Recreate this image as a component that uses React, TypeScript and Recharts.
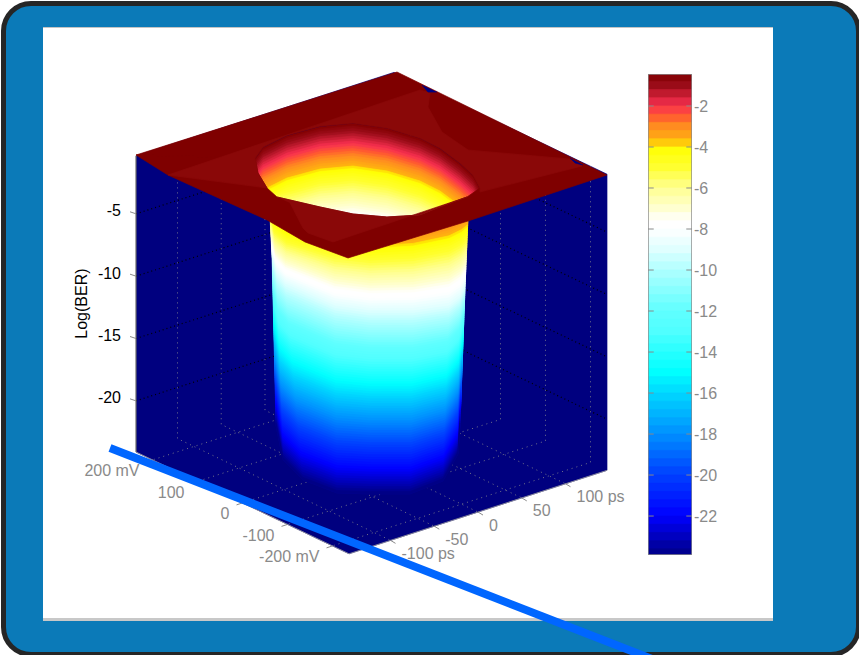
import React from 'react'
import { ScatterChart, Scatter, XAxis, YAxis } from 'recharts'

// surface readings: [ps, mV] on the sheet, levels in log10(BER)
const timeTicks = [-100, -50, 0, 50, 100]
const voltTicks = [200, 100, 0, -100, -200]
const berTicks = [-5, -10, -15, -20]
const colorbarTicks = [-2, -4, -6, -8, -10, -12, -14, -16, -18, -20, -22]
const timeLabels = ['-100 ps', '-50', '0', '50', '100 ps']
const voltLabels = ['200 mV', '100', '0', '-100', '-200 mV']

const TIME_MAX = 147.4
const VOLT_MAX = 236.7
const BER_TOP = -0.35
const BER_FLOOR = -24.1

const sheetOutline = [
  [-146.2, 238.9], [150, 235], [146.2, -238.9], [-14.1, -241.9], [-148.6, -236.8],
  [-155.1, -153.8], [-149.6, -58.8], [-153, 154.8], [-146.2, 238.9],
]
// far rim of the eye opening, left tip to right tip
const holeFarRim = [
  [-69.4, 123.9], [-48.3, 147.2], [-14.8, 159], [20.5, 154.3], [47.3, 133.1], [63.4, 88.7],
  [71.6, 31.4], [70.9, -14.3], [63.2, -73.9], [54.9, -118.7], [41.1, -161.1],
]
// deepest level of the far wall still seen through the opening, one per rim point
const holeFarDepth = [-2.8, -4.6, -6.7, -8.1, -8.9, -8.7, -7.8, -6.3, -4.6, -3, -1.6]
// near rim, right tip back to left tip
const holeNearRim = [
  [19.5, -174.4], [-13.2, -177.9], [-38.2, -182.2], [-63.6, -158.1], [-82.5, -119.3],
  [-95, -70.3], [-110, -3.9], [-104, 29.9], [-88.8, 79.6],
]
const facetUpperEdge = [
  [-153, 154.8], [140.1, 164.5], [142.6, 147.2], [121.2, 110.1], [95.1, 28.3], [87.2, -45],
  [143.9, -161.5], [142.1, -191.6], [35.4, -172.2],
]
const facetLowerEdge = [[-136, -179], [-140.3, -131.6], [-136.6, -113.3], [-109.7, -32.3]]
const backNotch = [[148.5, 176.5], [142.6, 151.7], [148.7, 143.6]]
const rightNotch = [[145.3, -158.7], [141.6, -177], [144.1, -189.7]]

// outer wall of the eye at three depths, left silhouette to right silhouette
const wallLevels = [-3, -9, -24]
const wallContours = [
  [[-69.9, 91.9], [-86.3, 53.2], [-91.8, 9.2], [-74.8, -64.4], [-55.2, -104.1], [-21.6, -134.3], [14.3, -144.4], [31.7, -139.4], [41.6, -133.7]],
  [[-46.4, 130.9], [-65.1, 85.7], [-74.6, 47.1], [-72, -58.8], [-55.2, -104.1], [-25.9, -142.6], [5.7, -161], [24.6, -148.7], [42.3, -125.5]],
  [[-15.2, 182.8], [-60.3, 79.4], [-75.2, 5.9], [-70.6, -60.6], [-49.5, -93], [-22.3, -128.8], [18.7, -122.3], [67.5, -61], [110.2, 17.7]],
]

const colormapLevels = [-0.4, -1, -2, -2.5, -3, -3.7, -4, -5, -6, -7, -7.6, -8, -9, -10, -12, -13, -15, -16, -18, -20, -21, -22, -23, -24]
const colormapColors = [
  '#7f0000', '#9a0c18', '#f83050', '#ff5a30', '#ff8c20', '#ffb010', '#ffff00', '#ffff30', '#ffff90', '#ffffd0', '#ffffff', '#ffffff',
  '#e0ffff', '#b0ffff', '#60ffff', '#50ffff', '#00ffff', '#00d8ff', '#0090ff', '#0040ff', '#0020ff', '#0000ff', '#0000c0', '#000080',
]
const colorbarLevels = [
  -0.44, -0.8, -1.2, -1.6, -2, -2.4, -2.8, -3.2, -3.6, -4, -4.4, -4.8, -5.2, -5.6, -6, -6.4, -6.8, -7.2, -7.6, -8,
  -8.4, -8.8, -9.2, -9.6, -10, -10.4, -10.8, -11.2, -11.6, -12, -12.4, -12.8, -13.2, -13.6, -14, -14.4, -14.8, -15.2,
  -15.6, -16, -16.4, -16.8, -17.2, -17.6, -18, -18.4, -18.8, -19.2, -19.6, -20, -20.4, -20.8, -21.2, -21.6, -22,
  -22.4, -22.8, -23.2, -23.6, -23.9,
]
// pen stroke across the slide, in picture units
const penStroke = [{ x: 110, y: 448 }, { x: 670, y: 666 }]

const FONT = '"Liberation Sans", Arial, sans-serif'
const NAVY = '#00007f'
const GRAY = '#8a8a8a'
const GRID = '#74748a'

// view projection of the 3D axes onto the flat chart plane
const project = (ps: number, mV: number, ber: number) => ({
  x: 371.5 + 0.875 * ps - 0.45 * mV,
  y: 165 - 0.283 * ps - 0.215 * mV + (BER_TOP - ber) * 12.47,
})
const onSheet = (list: number[][]) => list.map(([ps, mV]) => project(ps, mV, BER_TOP))

function hexToRgb(hex: string) {
  return [1, 3, 5].map((i) => parseInt(hex.slice(i, i + 2), 16))
}

function colorAt(level: number) {
  let i = 0
  while (i < colormapLevels.length - 2 && level < colormapLevels[i + 1]) i++
  const f = Math.min(1, Math.max(0, (colormapLevels[i] - level) / (colormapLevels[i] - colormapLevels[i + 1])))
  const a = hexToRgb(colormapColors[i])
  const b = hexToRgb(colormapColors[i + 1])
  return `rgb(${a.map((c, k) => Math.round(c + (b[k] - c) * f)).join(',')})`
}

// interp shading between the contours
function wallRing(level: number) {
  let i = 0
  if (level < wallLevels[1]) i = 1
  const f = Math.min(1, Math.max(0, (wallLevels[i] - level) / (wallLevels[i] - wallLevels[i + 1])))
  return wallContours[i].map(([ps, mV], k) => {
    const [ps2, mV2] = wallContours[i + 1][k]
    return project(ps + (ps2 - ps) * f, mV + (mV2 - mV) * f, level)
  })
}
function rimRing(level: number) {
  return holeFarRim.map(([ps, mV], k) => project(ps, mV, Math.max(level, holeFarDepth[k])))
}

const noDot = () => <g />

function poly(key: string, pts: { x: number; y: number }[], fill: string) {
  return (
    <Scatter key={key} data={pts} shape={noDot} isAnimationActive={false}
      line={{ fill, stroke: fill, strokeWidth: 0.7 }} />
  )
}

function dotted(key: string, pts: { x: number; y: number }[], stroke: string, dash = '1 4', strokeWidth = 1) {
  return (
    <Scatter key={key} data={pts} shape={noDot} isAnimationActive={false}
      line={{ fill: 'none', stroke, strokeWidth, strokeDasharray: dash }} />
  )
}

function textShape(anchor: string, fill: string, dx: number, dy: number) {
  return (p: any) => (
    <text x={p.cx + dx} y={p.cy + dy} textAnchor={anchor} dominantBaseline="central"
      fontFamily={FONT} fontSize={16} fill={fill}>{p.payload.label}</text>
  )
}

// each band runs on under the next one so no seams show between them
function shadedBands(prefix: string, ring: (z: number) => { x: number; y: number }[], from: number, to: number) {
  const out = []
  const step = 0.2
  for (let z = from; z - step >= to - 0.001; z -= step) {
    const upper = ring(z)
    const lower = ring(Math.max(z - step * 2.5, to))
    out.push(poly(`${prefix}${z}`, [...upper, ...lower.reverse()], colorAt(z - step / 2)))
  }
  return out
}

function EyeSurface() {
  const hole = onSheet([holeFarRim[0], ...[...holeNearRim].reverse(), ...[...holeFarRim].reverse()])
  const sheet = [...onSheet(sheetOutline), ...hole, ...onSheet([sheetOutline[0]])]
  const facetUpper = onSheet([...facetUpperEdge, ...[...holeFarRim].reverse(), holeNearRim[8], holeNearRim[7], facetUpperEdge[0]])
  const facetLower = onSheet([holeNearRim[6], holeNearRim[5], holeNearRim[4], holeNearRim[3], holeNearRim[2], holeNearRim[1], holeNearRim[0], ...facetLowerEdge])

  const walls = [
    project(-TIME_MAX, VOLT_MAX, BER_TOP), project(TIME_MAX, VOLT_MAX, BER_TOP), project(TIME_MAX, -VOLT_MAX, BER_TOP),
    project(TIME_MAX, -VOLT_MAX, BER_FLOOR), project(-TIME_MAX, -VOLT_MAX, BER_FLOOR), project(-TIME_MAX, VOLT_MAX, BER_FLOOR),
  ]

  return (
    <ScatterChart width={859} height={655} margin={{ top: 0, right: 0, bottom: 0, left: 0 }}>
      <XAxis type="number" dataKey="x" domain={[0, 859]} hide allowDataOverflow />
      <YAxis type="number" dataKey="y" domain={[0, 655]} reversed hide allowDataOverflow />

      {poly('walls', walls, NAVY)}

      {berTicks.map((z) =>
        dotted(`zgrid${z}`, [project(-TIME_MAX, VOLT_MAX, z), project(TIME_MAX, VOLT_MAX, z), project(TIME_MAX, -VOLT_MAX, z)], '#000000', '1 3', 1.2),
      )}
      {timeTicks.map((t) => dotted(`twall${t}`, [project(t, VOLT_MAX, BER_TOP), project(t, VOLT_MAX, BER_FLOOR), project(t, -VOLT_MAX, BER_FLOOR)], GRID))}
      {voltTicks.map((v) => dotted(`vwall${v}`, [project(TIME_MAX, v, BER_TOP), project(TIME_MAX, v, BER_FLOOR), project(-TIME_MAX, v, BER_FLOOR)], GRID))}

      {shadedBands('near', wallRing, -0.4, -24)}
      {shadedBands('far', rimRing, -0.4, -9)}

      {poly('sheet', sheet, '#7f0000')}
      {poly('facetUpper', facetUpper, '#8a0808')}
      {poly('facetLower', facetLower, '#8a0808')}
      {poly('backNotch', onSheet(backNotch), NAVY)}
      {poly('rightNotch', onSheet(rightNotch), NAVY)}

      {dotted('zaxis', [project(-TIME_MAX, VOLT_MAX, BER_TOP), project(-TIME_MAX, VOLT_MAX, BER_FLOOR)], '#6a6a6a', '0', 1.2)}
      {dotted('floorFrontLeft', [project(-TIME_MAX, VOLT_MAX, BER_FLOOR), project(-TIME_MAX, -VOLT_MAX, BER_FLOOR), project(TIME_MAX, -VOLT_MAX, BER_FLOOR)], '#9a9a9a', '0', 0.8)}

      {berTicks.map((z) => {
        const p = project(-TIME_MAX, VOLT_MAX, z)
        return dotted(`ztick${z}`, [p, { x: p.x - 6, y: p.y - 2 }], GRAY, '0')
      })}
      {voltTicks.map((v) => {
        const p = project(-TIME_MAX, v, BER_FLOOR)
        return dotted(`vtick${v}`, [p, { x: p.x - 6, y: p.y + 2 }], GRAY, '0')
      })}
      {timeTicks.map((t) => {
        const p = project(t, -VOLT_MAX, BER_FLOOR)
        return dotted(`ttick${t}`, [p, { x: p.x + 5, y: p.y + 3 }], GRAY, '0')
      })}

      <Scatter data={berTicks.map((z) => ({ ...project(-TIME_MAX, VOLT_MAX, z), label: String(z) }))}
        shape={textShape('end', '#000000', -15, -3)} isAnimationActive={false} />
      <Scatter data={voltTicks.map((v, i) => ({ ...project(-TIME_MAX, v, BER_FLOOR), label: voltLabels[i] }))}
        shape={textShape('end', GRAY, -13, 11)} isAnimationActive={false} />
      <Scatter data={timeTicks.map((t, i) => ({ ...project(t, -VOLT_MAX, BER_FLOOR), label: timeLabels[i] }))}
        shape={textShape('start', GRAY, 11, 13)} isAnimationActive={false} />
      <Scatter data={[{ ...project(-TIME_MAX, VOLT_MAX, -12.2), label: 'Log(BER)' }]} isAnimationActive={false}
        shape={(p: any) => (
          <text transform={`translate(${p.cx - 55} ${p.cy}) rotate(-90)`} textAnchor="middle" dominantBaseline="central"
            fontFamily={FONT} fontSize={16} fill="#000000">{p.payload.label}</text>
        )} />

      {dotted('pen', penStroke, '#0066ff', '0', 8)}
    </ScatterChart>
  )
}

function Colorbar() {
  const [low, high] = [colorbarLevels[colorbarLevels.length - 1], colorbarLevels[0]]
  return (
    <ScatterChart width={112} height={483} margin={{ top: 1, right: 0, bottom: 1, left: 1 }}>
      <XAxis type="number" dataKey="x" domain={[0, 1]} hide allowDataOverflow />
      <YAxis type="number" dataKey="y" orientation="right" domain={[low, high]} ticks={colorbarTicks} interval={0}
        width={67} axisLine={false} tickLine={false} tickSize={0} tickMargin={2} allowDataOverflow
        tick={{ fill: GRAY, fontSize: 16, fontFamily: FONT }} />
      {colorbarLevels.slice(0, -1).map((z, i) => {
        const next = colorbarLevels[i + 1]
        const below = colorbarLevels[Math.min(i + 2, colorbarLevels.length - 1)]
        return poly(`bar${z}`, [{ x: 0, y: z }, { x: 1, y: z }, { x: 1, y: below }, { x: 0, y: below }], colorAt((z + next) / 2))
      })}
      {colorbarTicks.map((z) => dotted(`barL${z}`, [{ x: 0, y: z }, { x: 0.13, y: z }], GRAY, '0'))}
      {colorbarTicks.map((z) => dotted(`barR${z}`, [{ x: 0.87, y: z }, { x: 1, y: z }], GRAY, '0'))}
      {dotted('barBox', [{ x: 0, y: high }, { x: 1, y: high }, { x: 1, y: low }, { x: 0, y: low }, { x: 0, y: high }], GRAY, '0', 1.4)}
    </ScatterChart>
  )
}

export default function App() {
  return (
    <div style={{ position: 'absolute', left: 0, top: 0, width: 859, height: 655, overflow: 'hidden', background: '#ffffff' }}>
      <div style={{ position: 'absolute', left: 1, top: 1, width: 850, height: 646, border: '5px solid #262626', borderRadius: 30, background: '#0b7ab8' }} />
      <div style={{ position: 'absolute', left: 43, top: 27, width: 730, height: 590, background: '#ffffff', borderTop: '1px solid #c4c4c4', borderBottom: '3px solid #c8c8c8' }} />
      <div style={{ position: 'absolute', left: 0, top: 0 }}><EyeSurface /></div>
      <div style={{ position: 'absolute', left: 647, top: 73 }}><Colorbar /></div>
    </div>
  )
}
